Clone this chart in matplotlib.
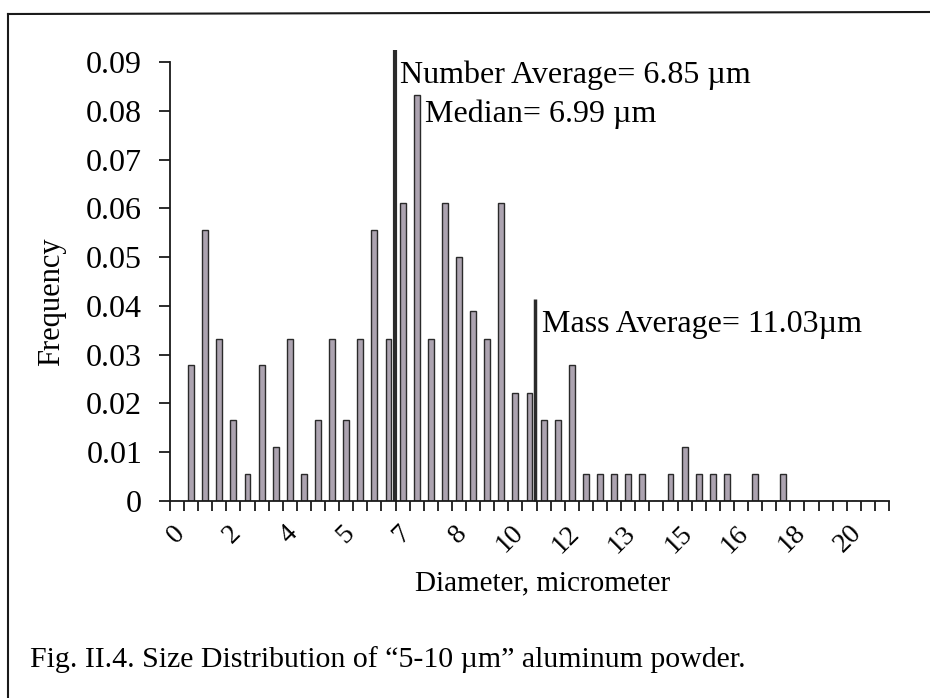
import matplotlib.pyplot as plt
import matplotlib.transforms as mtransforms
from matplotlib.lines import Line2D
import numpy as np

plt.rcParams['font.family'] = ['Liberation Serif', 'DejaVu Serif']

W, H = 930, 698

# frequency per size bin (51 bins, labelled every 4th bin)
freq = [0, 0.0278, 0.0556, 0.0333, 0.0167, 0.0056, 0.0278, 0.0111, 0.0333, 0.0056,
        0.0167, 0.0333, 0.0167, 0.0333, 0.0556, 0.0333, 0.0611, 0.0833, 0.0333, 0.0611,
        0.0500, 0.0389, 0.0333, 0.0611, 0.0222, 0.0222, 0.0167, 0.0167, 0.0278, 0.0056,
        0.0056, 0.0056, 0.0056, 0.0056, 0, 0.0056, 0.0111, 0.0056, 0.0056, 0.0056,
        0, 0.0056, 0, 0.0056, 0, 0, 0, 0, 0, 0, 0]
size_labels = ['0', '2', '4', '5', '7', '8', '10', '12', '13', '15', '16', '18', '20']

# marker lines: (bin position, height)
number_avg = (15.46, 0.0924)
mass_avg = (25.4, 0.0414)

fig = plt.figure(figsize=(W / 100, H / 100), dpi=100)
ax = fig.add_axes([170 / W, 1 - 501 / H, 719 / W, 439 / H])

x = np.arange(len(freq))
ax.bar(x, freq, width=0.42, color='#aca3b0', edgecolor='#2a2a2a', linewidth=1.0)

ax.plot([number_avg[0]] * 2, [0, number_avg[1]], color='#2b2b2b', lw=3, clip_on=False,
        solid_capstyle='butt')
ax.plot([mass_avg[0]] * 2, [0, mass_avg[1]], color='#2b2b2b', lw=2.5, clip_on=False,
        solid_capstyle='butt')

ax.set_xlim(-0.5, len(freq) - 0.5)
ax.set_ylim(0, 0.09)

for s in ['top', 'right']:
    ax.spines[s].set_visible(False)
for s in ['left', 'bottom']:
    ax.spines[s].set_linewidth(1.3)
    ax.spines[s].set_color('#1a1a1a')

ax.set_yticks(np.arange(0, 0.091, 0.01))
ax.set_yticklabels(['0'] + ['%.2f' % v for v in np.arange(0.01, 0.091, 0.01)])
ax.tick_params(axis='y', length=8, width=1.3, pad=12, labelsize=23, color='#1a1a1a')

ax.set_xticks(np.arange(-0.5, len(freq), 1.0))
ax.set_xticklabels([])
ax.tick_params(axis='x', which='major', length=7, width=1.3, color='#1a1a1a')
ax.set_xticks(np.arange(0, len(freq), 4), minor=True)
ax.set_xticklabels(size_labels, minor=True, rotation=45, ha='right',
                   rotation_mode='anchor', fontsize=20)
ax.tick_params(axis='x', which='minor', length=0, pad=14)
shift = mtransforms.ScaledTranslation(-5 / 100, 0, fig.dpi_scale_trans)
for lab in ax.get_xticklabels(minor=True):
    lab.set_transform(lab.get_transform() + shift)

fig.text(52 / W, 1 - 302 / H, 'Frequency', rotation=90, ha='center', va='center',
         fontsize=22)
fig.text(543 / W, 1 - 583 / H, 'Diameter, micrometer', ha='center', va='center',
         fontsize=21)

ax.text(400 / W, 1 - 83 / H, 'Number Average= 6.85 \u00b5m', transform=fig.transFigure,
        ha='left', va='baseline', fontsize=23)
ax.text(425 / W, 1 - 122 / H, 'Median= 6.99 \u00b5m', transform=fig.transFigure,
        ha='left', va='baseline', fontsize=23)
ax.text(542 / W, 1 - 332 / H, 'Mass Average= 11.03\u00b5m', transform=fig.transFigure,
        ha='left', va='baseline', fontsize=23)

fig.text(30 / W, 1 - 660 / H,
         'Fig. II.4. Size Distribution of \u201c5-10 \u00b5m\u201d aluminum powder.',
         ha='left', va='center', fontsize=21.5)

# page frame
fig.add_artist(Line2D([8 / W, 8 / W], [0, 1 - 14 / H], color='#1a1a1a', lw=1.5))
fig.add_artist(Line2D([8 / W, 1], [1 - 14 / H, 1 - 12 / H], color='#1a1a1a', lw=1.5))

fig.savefig('out.png', dpi=100)
